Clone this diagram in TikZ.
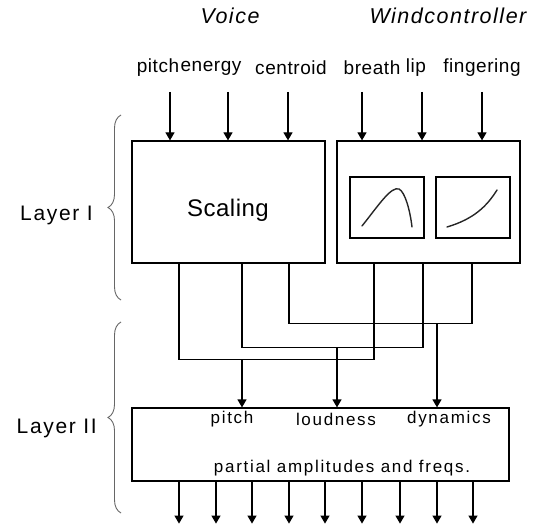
\documentclass[tikz,border=0pt]{standalone}
\usepackage{fontspec}
\setmainfont{Liberation Sans}
\usetikzlibrary{arrows.meta,decorations.pathreplacing}
\tikzset{
  blk/.style={draw, line width=1.2pt, inner sep=0pt},
  arr/.style={-{Triangle[length=8pt,width=9pt]}, line width=1.2pt},
  wire/.style={line width=1.2pt},
  inlbl/.style={font=\fontsize{19}{21}\selectfont\addfontfeatures{LetterSpace=3}, inner sep=0pt},
  laylbl/.style={font=\fontsize{21}{23}\selectfont\addfontfeatures{LetterSpace=8}, inner sep=0pt, anchor=east},
  outlbl/.style={font=\fontsize{17}{19}\selectfont\addfontfeatures{LetterSpace=10}, inner sep=0pt},
  ttl/.style={font=\fontsize{21.5}{23}\selectfont\itshape\addfontfeatures{LetterSpace=7}, inner sep=0pt},
  brc/.style={decorate, decoration={brace, amplitude=13pt}, draw=black!60, line width=0.9pt},
  crv/.style={line width=1.4pt, black!85, line cap=round}
}
\begin{document}
\begin{tikzpicture}[x=1pt, y=-1pt]
\useasboundingbox (0,0) rectangle (548,529);
% sources
\node[ttl] (voice) at (230,16) {Voice};
\node[ttl] (wind) at (448,16) {Windcontroller};
\node[inlbl] (ipitch) at (158,68) {pitch};
\node[inlbl] (ienergy) at (211,68) {energy};
\node[inlbl] (icentroid) at (291,68) {centroid};
\node[inlbl] (ibreath) at (372,68) {breath};
\node[inlbl] (ilip) at (416,68) {lip};
\node[inlbl] (ifinger) at (482,68) {fingering};
% layer I
\node[blk, minimum width=193pt, minimum height=122pt] (scale) at (228.5,202) {};
\node[font=\fontsize{24}{26}\selectfont\addfontfeatures{LetterSpace=2}, inner sep=0pt] (scaletxt) at (228,210) {Scaling};
\node[blk, minimum width=183pt, minimum height=122pt] (ctrl) at (428.5,202) {};
\node[blk, minimum width=74pt, minimum height=61pt] (map1) at (387,207.5) {};
\node[blk, minimum width=74pt, minimum height=61pt] (map2) at (473,207.5) {};
\draw[crv] (362,226) .. controls (378,206) and (391,186) .. (399,189) .. controls (405,192) and (410,210) .. (412,227);
\draw[crv] (447,227) .. controls (474,219) and (487,206) .. (497,190);
\foreach \x in {170,228,288} \draw[arr] (\x,92) -- (scale.north -| \x,0);
\foreach \x in {362,422,482} \draw[arr] (\x,92) -- (ctrl.north -| \x,0);
% layer II
\node[blk, minimum width=377pt, minimum height=73pt] (synth) at (320.5,444.5) {};
\node[outlbl] (opitch) at (232,419) {pitch};
\node[outlbl] (oloud) at (336,419) {loudness};
\node[outlbl] (odyn) at (449,419) {dynamics};
\node[outlbl] (opart) at (342,468) {partial amplitudes and freqs.};
% crossing wires
\draw[wire] (scale.south -| 289,0) -- ++(0,60) coordinate (jdyn) -| (ctrl.south -| 472,0);
\draw[wire] (scale.south -| 242,0) -- ++(0,84) coordinate (jloud) -| (ctrl.south -| 423,0);
\draw[wire] (scale.south -| 179,0) -- ++(0,96) coordinate (jpitch) -| (ctrl.south -| 374,0);
\draw[arr] (jpitch -| 242,0) -- (synth.north -| 242,0);
\draw[arr] (jloud -| 337,0) -- (synth.north -| 337,0);
\draw[arr] (jdyn -| 437,0) -- (synth.north -| 437,0);
\foreach \x in {179,216,252,289,325,362,400,437,473} \draw[arr] (synth.south -| \x,0) -- ++(0,42);
% layers
\draw[brc] (121,300) -- (121,115);
\draw[brc] (121,513) -- (121,322);
\node[laylbl] (lay1) at (93,215) {Layer I};
\node[laylbl] (lay2) at (97,428) {Layer II};
\end{tikzpicture}
\end{document}
